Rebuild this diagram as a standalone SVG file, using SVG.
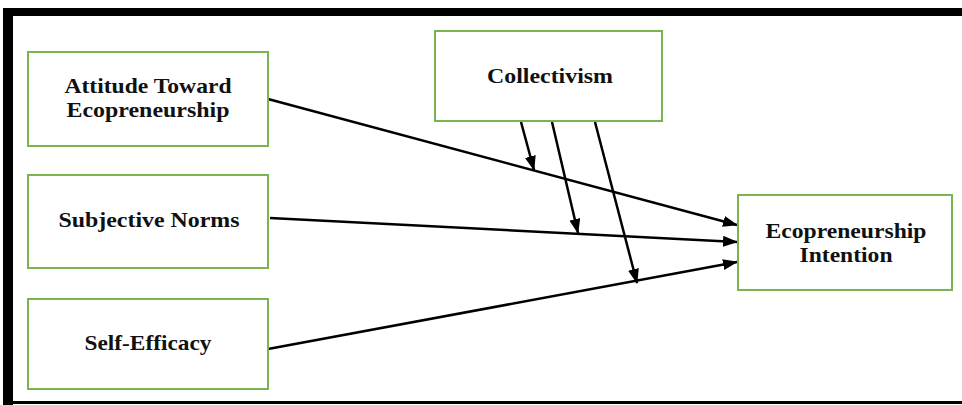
<svg xmlns="http://www.w3.org/2000/svg" width="962" height="405" viewBox="0 0 962 405">
<style>
.box{fill:#fff;stroke:#7bb350;stroke-width:2}
.t{font-family:"Liberation Serif","DejaVu Serif",serif;font-weight:bold;font-size:21px;fill:#111;text-anchor:middle}
.c{stroke:#000;stroke-width:2.5;fill:none;marker-end:url(#ah)}
</style>
<defs>
<marker id="ah" markerWidth="15" markerHeight="11" refX="14" refY="5.5" orient="auto" markerUnits="userSpaceOnUse">
<path d="M0,0 L15,5.5 L0,11 z" fill="#000"/>
</marker>
</defs>
<rect x="0" y="0" width="962" height="405" fill="#fff"/>
<rect x="3" y="8" width="959" height="8" fill="#000"/>
<rect x="3" y="8" width="10" height="397" fill="#000"/>
<rect x="3" y="401" width="959" height="3" fill="#000"/>
<g id="connectors">
<line class="c" x1="268" y1="99" x2="737" y2="225"/>
<line class="c" x1="270" y1="218" x2="737" y2="242"/>
<line class="c" x1="268" y1="349" x2="737" y2="262"/>
<line class="c" x1="521" y1="122" x2="534" y2="170"/>
<line class="c" x1="552" y1="122" x2="578" y2="233"/>
<line class="c" x1="595" y1="122" x2="637" y2="283"/>
</g>
<g id="attitude"><rect class="box" x="28" y="52" width="240" height="94"/><text class="t" x="148" y="93" textLength="167" lengthAdjust="spacingAndGlyphs">Attitude Toward</text><text class="t" x="148" y="117" textLength="163" lengthAdjust="spacingAndGlyphs">Ecopreneurship</text></g>
<g id="subjective"><rect class="box" x="28" y="175" width="240" height="93"/><text class="t" x="149" y="227" textLength="181" lengthAdjust="spacingAndGlyphs">Subjective Norms</text></g>
<g id="selfefficacy"><rect class="box" x="28" y="299" width="240" height="90"/><text class="t" x="148" y="350" textLength="127" lengthAdjust="spacingAndGlyphs">Self-Efficacy</text></g>
<g id="collectivism"><rect class="box" x="435" y="31" width="227" height="90"/><text class="t" x="550" y="83" textLength="126" lengthAdjust="spacingAndGlyphs">Collectivism</text></g>
<g id="intention"><rect class="box" x="738" y="195" width="214" height="95"/><text class="t" x="846" y="238" textLength="161" lengthAdjust="spacingAndGlyphs">Ecopreneurship</text><text class="t" x="846" y="262" textLength="93" lengthAdjust="spacingAndGlyphs">Intention</text></g>
</svg>
